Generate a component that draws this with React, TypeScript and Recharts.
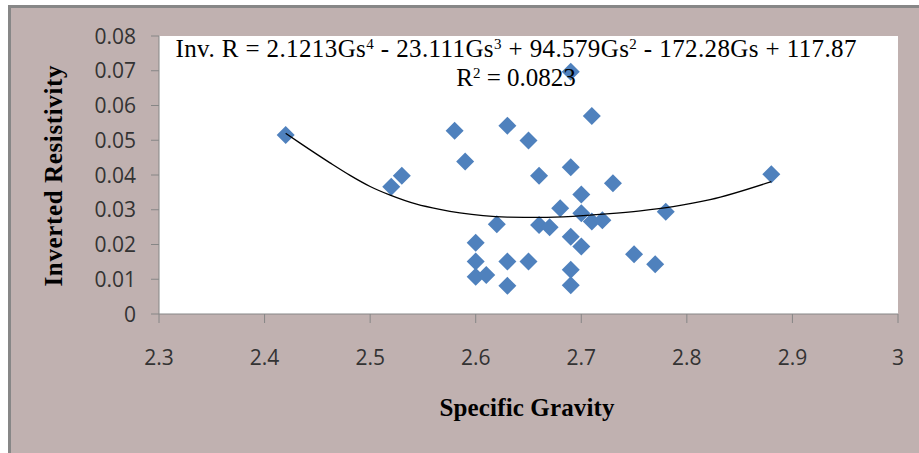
import React from 'react';
import { ScatterChart, Scatter, XAxis, YAxis, CartesianGrid } from 'recharts';

// measured points: specific gravity vs inverted resistivity
const specificGravity = [
  2.42, 2.52, 2.53, 2.58, 2.59, 2.63, 2.65, 2.66, 2.69, 2.71, 2.69, 2.70,
  2.73, 2.88, 2.78, 2.68, 2.62, 2.66, 2.67, 2.70, 2.71, 2.72, 2.69, 2.70,
  2.60, 2.75, 2.77, 2.60, 2.63, 2.65, 2.60, 2.61, 2.69, 2.63, 2.69,
];
const invertedResistivity = [
  0.0515, 0.0366, 0.0398, 0.0527, 0.0439, 0.0542, 0.0499, 0.0398, 0.0697, 0.057, 0.0422, 0.0344,
  0.0376, 0.0402, 0.0294, 0.0304, 0.0258, 0.0256, 0.025, 0.029, 0.0266, 0.027, 0.0222, 0.0194,
  0.0205, 0.0172, 0.0143, 0.0151, 0.0151, 0.0151, 0.0107, 0.0112, 0.0127, 0.0081, 0.0083,
];

// polynomial trendline
const trendGravity = [
  2.42, 2.434, 2.462, 2.481, 2.5, 2.519, 2.544, 2.566, 2.585,
  2.607, 2.63, 2.661, 2.692, 2.724, 2.756, 2.787, 2.822, 2.88,
];
const trendResistivity = [
  0.052, 0.0491, 0.0435, 0.0399, 0.0367, 0.0342, 0.0316, 0.0301, 0.0291,
  0.0283, 0.0279, 0.0278, 0.0281, 0.0288, 0.0297, 0.0309, 0.0329, 0.0381,
];

const xTicks = [2.3, 2.4, 2.5, 2.6, 2.7, 2.8, 2.9, 3];
const xTickLabels = ['2.3', '2.4', '2.5', '2.6', '2.7', '2.8', '2.9', '3'];
const yTicks = [0, 0.01, 0.02, 0.03, 0.04, 0.05, 0.06, 0.07, 0.08];
const yTickLabels = ['0', '0.01', '0.02', '0.03', '0.04', '0.05', '0.06', '0.07', '0.08'];

const points = specificGravity.map((gs, i) => ({ gs, r: invertedResistivity[i] }));
const trend = trendGravity.map((gs, i) => ({ gs, r: trendResistivity[i] }));

const tickFont = '"Open Sans", sans-serif';
const serif = '"Liberation Serif", "Times New Roman", serif';

function Diamond(props: any) {
  const { cx, cy } = props;
  const h = 9;
  return (
    <polygon
      points={`${cx},${cy - h} ${cx + h},${cy} ${cx},${cy + h} ${cx - h},${cy}`}
      fill="#4f81bd"
    />
  );
}

function XTick(props: any) {
  const { x, y, index } = props;
  return (
    <text x={x} y={y} dy={40} textAnchor="middle" fontFamily={tickFont} fontSize={21} fill="#333333">
      {xTickLabels[index]}
    </text>
  );
}

function YTick(props: any) {
  const { x, y, index } = props;
  return (
    <text x={x} y={y} dx={-13} dy={7.5} textAnchor="end" fontFamily={tickFont} fontSize={21} fill="#333333">
      {yTickLabels[index]}
    </text>
  );
}

export default function App() {
  return (
    <div style={{ position: 'absolute', left: 0, top: 0, width: 919, height: 453, overflow: 'hidden', background: '#ffffff' }}>
      <div
        style={{
          position: 'absolute', left: 8, top: 5, width: 920, height: 460,
          background: '#c0b1b0', borderLeft: '3px solid #878787', borderTop: '3px solid #878787',
        }}
      />
      <div style={{ position: 'absolute', left: 0, top: 0 }}>
        <ScatterChart width={919} height={453} margin={{ top: 36, right: 21, bottom: 0, left: 0 }}>
          <CartesianGrid horizontal={false} vertical={false} fill="#ffffff" fillOpacity={1} stroke="none" />
          <XAxis
            type="number" dataKey="gs" domain={[2.3, 3]} ticks={xTicks} interval={0}
            height={139} tickSize={9} stroke="#868686" tick={<XTick />} allowDataOverflow
          />
          <YAxis
            type="number" dataKey="r" domain={[0, 0.08]} ticks={yTicks} interval={0}
            width={159} tickSize={8} stroke="#868686" tick={<YTick />} allowDataOverflow
          />
          <Scatter data={points} shape={<Diamond />} isAnimationActive={false} />
          <Scatter
            data={trend}
            shape={() => <g />}
            line={{ stroke: '#000000', strokeWidth: 1.3 }}
            lineJointType="monotoneX"
            isAnimationActive={false}
          />
        </ScatterChart>
      </div>
      <svg width={919} height={453} style={{ position: 'absolute', left: 0, top: 0, pointerEvents: 'none' }}>
        <text x={516} y={57} textAnchor="middle" fontFamily={serif} fontSize={25} fill="#000" textLength={681}>
          Inv. R = 2.1213Gs<tspan dy={-8} fontSize={15}>4</tspan>
          <tspan dy={8}> - 23.111Gs</tspan><tspan dy={-8} fontSize={15}>3</tspan>
          <tspan dy={8}> + 94.579Gs</tspan><tspan dy={-8} fontSize={15}>2</tspan>
          <tspan dy={8}> - 172.28Gs + 117.87</tspan>
        </text>
        <text x={516} y={86} textAnchor="middle" fontFamily={serif} fontSize={25} fill="#000">
          R<tspan dy={-8} fontSize={15}>2</tspan><tspan dy={8}> = 0.0823</tspan>
        </text>
        <text
          x={62} y={176} transform="rotate(-90 62 176)" textAnchor="middle"
          fontFamily={serif} fontSize={25} fontWeight="bold" fill="#000" textLength={221}
        >
          Inverted Resistivity
        </text>
        <text x={527} y={416} textAnchor="middle" fontFamily={serif} fontSize={25} fontWeight="bold" fill="#000" textLength={175}>
          Specific Gravity
        </text>
      </svg>
    </div>
  );
}
